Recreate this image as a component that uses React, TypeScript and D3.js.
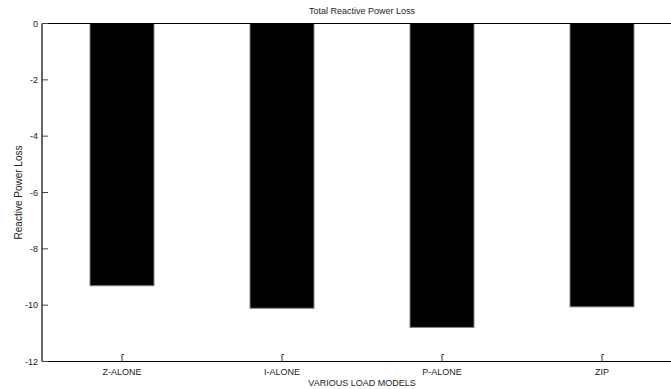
import * as d3 from 'd3'

const categories = ['Z-ALONE', 'I-ALONE', 'P-ALONE', 'ZIP']
const lossValues = [-9.31, -10.11, -10.79, -10.06]
const yTicks = [0, -2, -4, -6, -8, -10, -12]

const W = 671
const H = 389
const left = 42
const right = 682
const top = 23.5
const bottom = 361.5

export default function App() {
    const x = d3.scaleLinear().domain([0.5, categories.length + 0.5]).range([left, right])
    const y = d3.scaleLinear().domain([-12, 0]).range([bottom, top])
    const barW = (x(2) - x(1)) * 0.4
    const font = 'Liberation Sans, Arial, sans-serif'

    return (
        <svg
            width={W}
            height={H}
            style={{ position: 'absolute', left: 0, top: 0, background: '#fff' }}
            fontFamily={font}
        >
            <rect x={0} y={0} width={W} height={H} fill="#fff" />
            {categories.map((c, i) => (
                <rect
                    key={c}
                    x={x(i + 1) - barW / 2}
                    y={y(0)}
                    width={barW}
                    height={y(lossValues[i]) - y(0)}
                    fill="#000"
                    stroke="#808080"
                    strokeWidth={1}
                />
            ))}
            {/* axes box */}
            <line x1={left} x2={right} y1={top} y2={top} stroke="#000" strokeWidth={1.2} />
            <line x1={left} x2={right} y1={bottom} y2={bottom} stroke="#000" strokeWidth={1.2} />
            <line x1={left} x2={left} y1={top} y2={bottom} stroke="#000" strokeWidth={1.2} />
            {yTicks.map((t) => (
                <g key={t}>
                    <line x1={left} x2={left + 6} y1={y(t)} y2={y(t)} stroke="#444" strokeWidth={1} />
                    <text x={left - 4} y={y(t) + 3} textAnchor="end" fontSize={9} fill="#222">
                        {t}
                    </text>
                </g>
            ))}
            {categories.map((c, i) => (
                <g key={c}>
                    <path
                        d={`M${x(i + 1)},${bottom} V${bottom - 7} h2`}
                        fill="none"
                        stroke="#333"
                        strokeWidth={1}
                    />
                    <text x={x(i + 1)} y={bottom + 13} textAnchor="middle" fontSize={9} fill="#222">
                        {c}
                    </text>
                </g>
            ))}
            <text x={(left + right) / 2} y={14} textAnchor="middle" fontSize={9} fill="#222">
                Total Reactive Power Loss
            </text>
            <text x={(left + right) / 2} y={386} textAnchor="middle" fontSize={9} fill="#222">
                VARIOUS LOAD MODELS
            </text>
            <text
                transform={`translate(22, ${(top + bottom) / 2}) rotate(-90)`}
                textAnchor="middle"
                fontSize={10}
                fill="#222"
            >
                Reactive Power Loss
            </text>
        </svg>
    )
}
